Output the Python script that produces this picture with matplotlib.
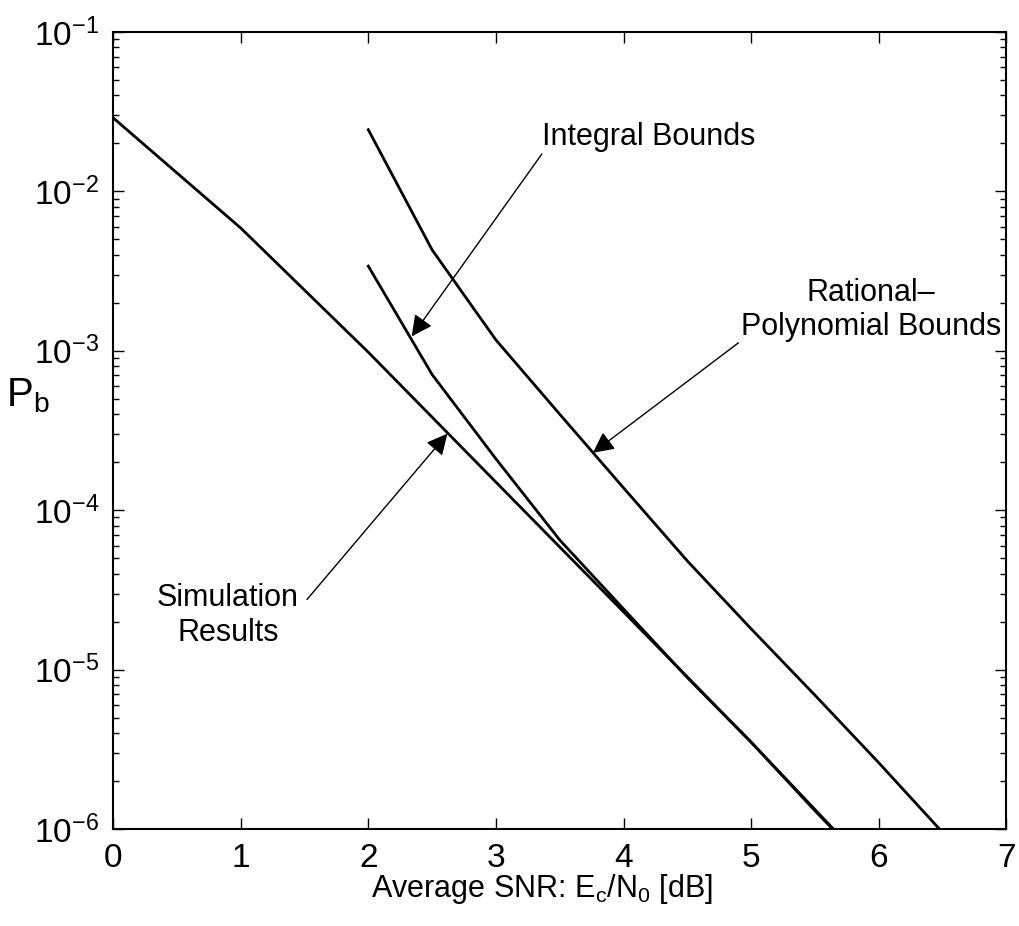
import numpy as np
import matplotlib
matplotlib.use('Agg')
import matplotlib.pyplot as plt

# curves (Pb vs Ec/N0 in dB)
snr_sim = [0, 1, 2, 3, 4, 5, 6]
pb_sim = [2.9e-2, 5.9e-3, 9.8e-4, 1.5e-4, 2.3e-5, 3.5e-6, 5.0e-7]

snr_int = [2, 2.5, 3, 3.5, 4, 4.5, 5, 5.5, 6]
pb_int = [3.4e-3, 7.1e-4, 2.1e-4, 6.5e-5, 2.4e-5, 8.9e-6, 3.5e-6, 1.3e-6, 5.0e-7]

snr_rat = [2, 2.5, 3, 3.5, 4, 4.5, 5, 5.5, 6, 6.5, 7]
pb_rat = [2.44e-2, 4.3e-3, 1.17e-3, 4.0e-4, 1.38e-4, 4.8e-5, 1.8e-5, 6.9e-6, 2.6e-6, 9.5e-7, 3.5e-7]

plt.rcParams['font.family'] = ['Liberation Sans', 'DejaVu Sans']
plt.rcParams['mathtext.default'] = 'regular'
plt.rcParams['font.size'] = 22

fig = plt.figure(figsize=(10.19, 9.26), dpi=100)
ax = fig.add_axes([0.1109, 0.1048, 0.8768, 0.8606])

for x, y in [(snr_sim, pb_sim), (snr_int, pb_int), (snr_rat, pb_rat)]:
    ax.semilogy(x, y, color='black', linewidth=2.0)

ax.set_xlim(0, 7)
ax.set_ylim(1e-6, 1e-1)
ax.set_xticks(range(8))
ax.tick_params(which='both', direction='in', top=True, right=True, labelsize=24)
ax.tick_params(which='major', length=8, width=1, pad=10)
ax.tick_params(which='minor', length=4, width=1)
ax.tick_params(axis='x', which='minor', top=False, bottom=False)
ax.tick_params(axis='x', which='major', pad=10)
for s in ax.spines.values():
    s.set_linewidth(1.5)

ax.set_xlabel('Average SNR: $E_c/N_0$ [dB]', fontsize=22)
ax.xaxis.set_label_coords(0.48, -0.0853)
ax.xaxis.label.set_va('baseline')
ax.set_ylabel('$P_b$', fontsize=29, rotation=0)
ax.yaxis.set_label_coords(-0.095, 0.52)

# annotations with arrows
arrow = dict(arrowstyle='-|>', color='black', linewidth=1, mutation_scale=32,
             shrinkA=0, shrinkB=0)

ax.text(3.36, 10 ** -1.66, 'Integral Bounds', ha='left', va='center', fontsize=22)
ax.annotate('', xy=(2.34, 10 ** -2.91), xytext=(3.36, 10 ** -1.765), arrowprops=arrow)

ax.text(5.94, 10 ** -2.744, 'Rational\u2013\nPolynomial Bounds', ha='center', va='center',
        multialignment='center', fontsize=22, linespacing=1.2)
ax.annotate('', xy=(3.76, 10 ** -3.64), xytext=(4.90, 10 ** -2.95), arrowprops=arrow)

ax.text(0.90, 10 ** -4.66, 'Simulation\nResults', ha='center', va='center',
        multialignment='center', fontsize=22, linespacing=1.25)
ax.annotate('', xy=(2.62, 10 ** -3.52), xytext=(1.52, 10 ** -4.56), arrowprops=arrow)

fig.savefig('out.png', dpi=100)
